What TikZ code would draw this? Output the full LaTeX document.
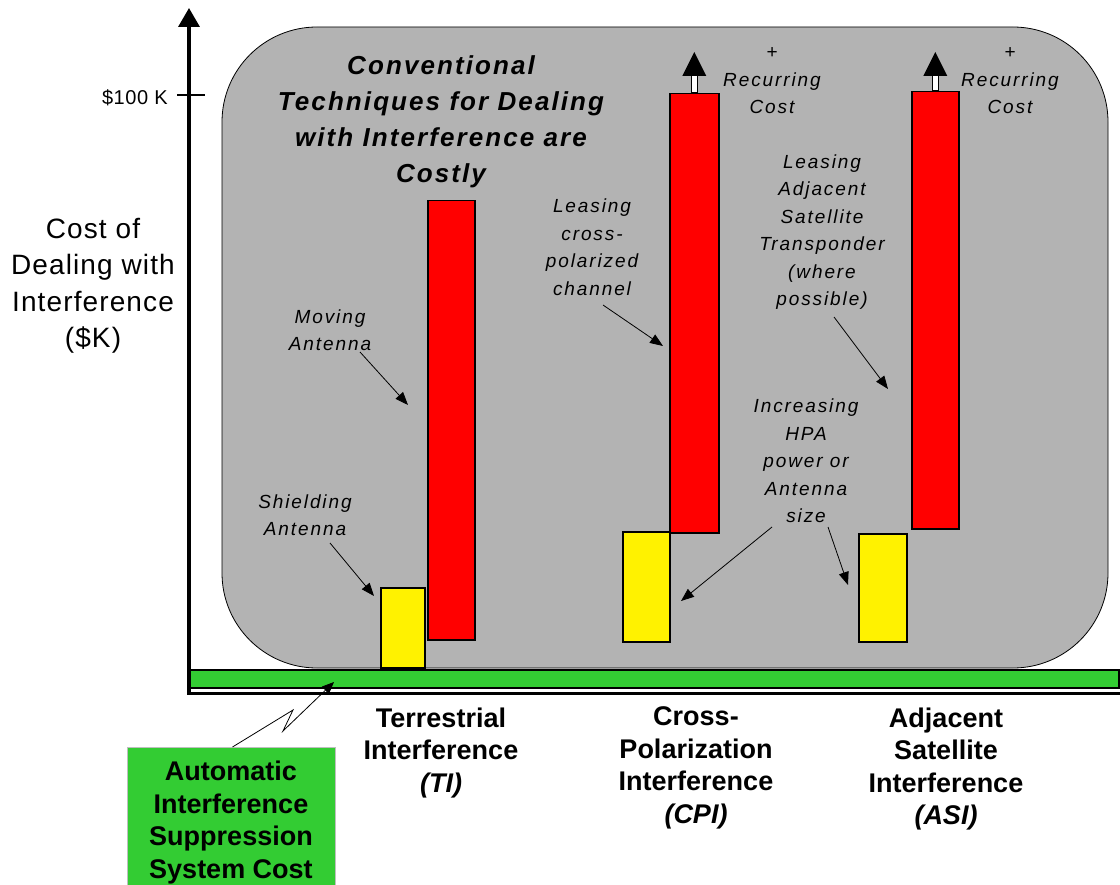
\documentclass[tikz,border=0pt]{standalone}
\usepackage{fontspec}
\setmainfont{Liberation Sans}
\usetikzlibrary{arrows.meta}
\definecolor{boxgray}{RGB}{179,179,179}
\definecolor{grn}{RGB}{51,204,51}
\begin{document}
\begin{tikzpicture}[x=1pt,y=-1pt,
  lbl/.style={font=\fontsize{19}{27.5}\selectfont\itshape\addfontfeature{LetterSpace=10}, align=center, inner sep=0pt},
  cat/.style={font=\fontsize{27}{32.5}\selectfont\bfseries, align=center, inner sep=0pt},
  ttl/.style={font=\fontsize{26}{36}\selectfont\bfseries\itshape\addfontfeature{LetterSpace=8}, align=center, inner sep=0pt},
  ylab/.style={font=\fontsize{28}{36.5}\selectfont\addfontfeature{LetterSpace=4}, align=center, inner sep=0pt},
  ptr/.style={-{Triangle[length=13pt,width=10pt]}, line width=0.8pt},
  bar/.style={draw=black, line width=1.5pt, inner sep=0pt, anchor=north west},
  uphead/.style={fill=black}
]
\useasboundingbox[fill=white] (0,0) rectangle (1120,885);

% gray background panel
\draw[fill=boxgray, draw=black, line width=0.8pt, rounded corners=95pt] (222,27) rectangle (1108,668);

% green bar
\node[draw=black, line width=1.5pt, fill=grn, inner sep=0pt, minimum width=929pt, minimum height=18pt, anchor=north west] (gbar) at (189,669) {};

% axes
\coordinate (axO) at (189,693);
\coordinate (axT) at (189,8);
\coordinate (axR) at (1120,693);
\draw[line width=3.5pt, -{Triangle[length=19pt,width=21pt]}] (axO) -- (axT);
\draw[line width=3pt] (187.25,693) -- (axR);
\coordinate (tkL) at (177,95);
\coordinate (tkR) at (205,95);
\draw[line width=2pt] (tkL) -- (tkR);
\node[font=\fontsize{20}{24}\selectfont\addfontfeature{LetterSpace=3}, anchor=east, inner sep=0pt] (k100) at (168,98) {\$100 K};

% bars
\node[bar, fill=yellow, minimum width=44pt, minimum height=80pt] (tiY) at (380,587) {};
\node[bar, fill=red, minimum width=47pt, minimum height=439pt] (tiR) at (427,200) {};
\node[bar, fill=yellow, minimum width=47pt, minimum height=110pt] (cpY) at (622,531) {};
\node[bar, fill=red, minimum width=49pt, minimum height=439pt] (cpR) at (669,93) {};
\node[bar, fill=yellow, minimum width=48pt, minimum height=108pt] (asY) at (858,533) {};
\node[bar, fill=red, minimum width=47pt, minimum height=437pt] (asR) at (911,91) {};

% up arrows (recurring cost)
\draw[fill=white, line width=1pt] ([xshift=-3pt]cpR.north) rectangle ([xshift=3pt,yshift=18pt]cpR.north);
\fill[uphead] ([xshift=-12pt,yshift=17pt]cpR.north) -- ([xshift=12pt,yshift=17pt]cpR.north) -- ([yshift=41pt]cpR.north) -- cycle;
\draw[fill=white, line width=1pt] ([xshift=-3pt]asR.north) rectangle ([xshift=3pt,yshift=16pt]asR.north);
\fill[uphead] ([xshift=-12pt,yshift=15pt]asR.north) -- ([xshift=12pt,yshift=15pt]asR.north) -- ([yshift=39pt]asR.north) -- cycle;

% title
\node[ttl] (title) at (441,122) {Conventional\\Techniques for Dealing\\with Interference are\\Costly};

% y label
\node[ylab] (ylabel) at (93,286) {Cost of\\Dealing with\\Interference\\(\$K)};

% recurring cost labels
\node[lbl] (rc1) at (772,81) {+\\Recurring\\Cost};
\node[lbl] (rc2) at (1010,81) {+\\Recurring\\Cost};

% annotation labels
\node[lbl] (moving) at (330,330) {Moving\\Antenna};
\node[lbl] (shield) at (305,515) {Shielding\\Antenna};
\node[lbl] (lcross) at (592,247) {Leasing\\cross-\\polarized\\channel};
\node[lbl] (ladj) at (822,232) {Leasing\\Adjacent\\Satellite\\Transponder\\(where\\possible)};
\node[lbl] (hpa) at (806,461) {Increasing\\HPA\\power or\\Antenna\\size};

% annotation arrows
\coordinate (mvS) at (360,352); \coordinate (mvT) at (408,405);
\coordinate (shS) at (330,543); \coordinate (shT) at (374,596);
\coordinate (lcS) at (603,305); \coordinate (lcT) at (663,346);
\coordinate (laS) at (834,317); \coordinate (laT) at (888,389);
\coordinate (h1S) at (772,527); \coordinate (h1T) at (681,601);
\coordinate (h2S) at (828,527); \coordinate (h2T) at (848,585);
\draw[ptr] (mvS) -- (mvT);
\draw[ptr] (shS) -- (shT);
\draw[ptr] (lcS) -- (lcT);
\draw[ptr] (laS) -- (laT);
\draw[ptr] (h1S) -- (h1T);
\draw[ptr] (h2S) -- (h2T);

% category labels
\node[cat] (ti) at (441,753) {Terrestrial\\Interference\\\textit{(TI)}};
\node[cat] (cpi) at (696,768) {Cross-\\Polarization\\Interference\\\textit{(CPI)}};
\node[cat] (asi) at (946,769) {Adjacent\\Satellite\\Interference\\\textit{(ASI)}};

% green box
\node[draw=black!25, line width=1pt, fill=grn, inner sep=0pt, minimum width=208pt, minimum height=140pt, anchor=north west] (gbox) at (127,747) {};
\node[cat] (gtext) at (231,822.5) {Automatic\\Interference\\Suppression\\System Cost};

% lightning arrow
\coordinate (lz1) at (293,710);
\coordinate (lz2) at (283,731);
\coordinate (lzT) at (334,682);
\draw[line width=0.8pt, -{Triangle[length=12pt,width=10pt]}] ([xshift=1pt]gbox.north) -- (lz1) -- (lz2) -- (lzT);
\end{tikzpicture}
\end{document}
